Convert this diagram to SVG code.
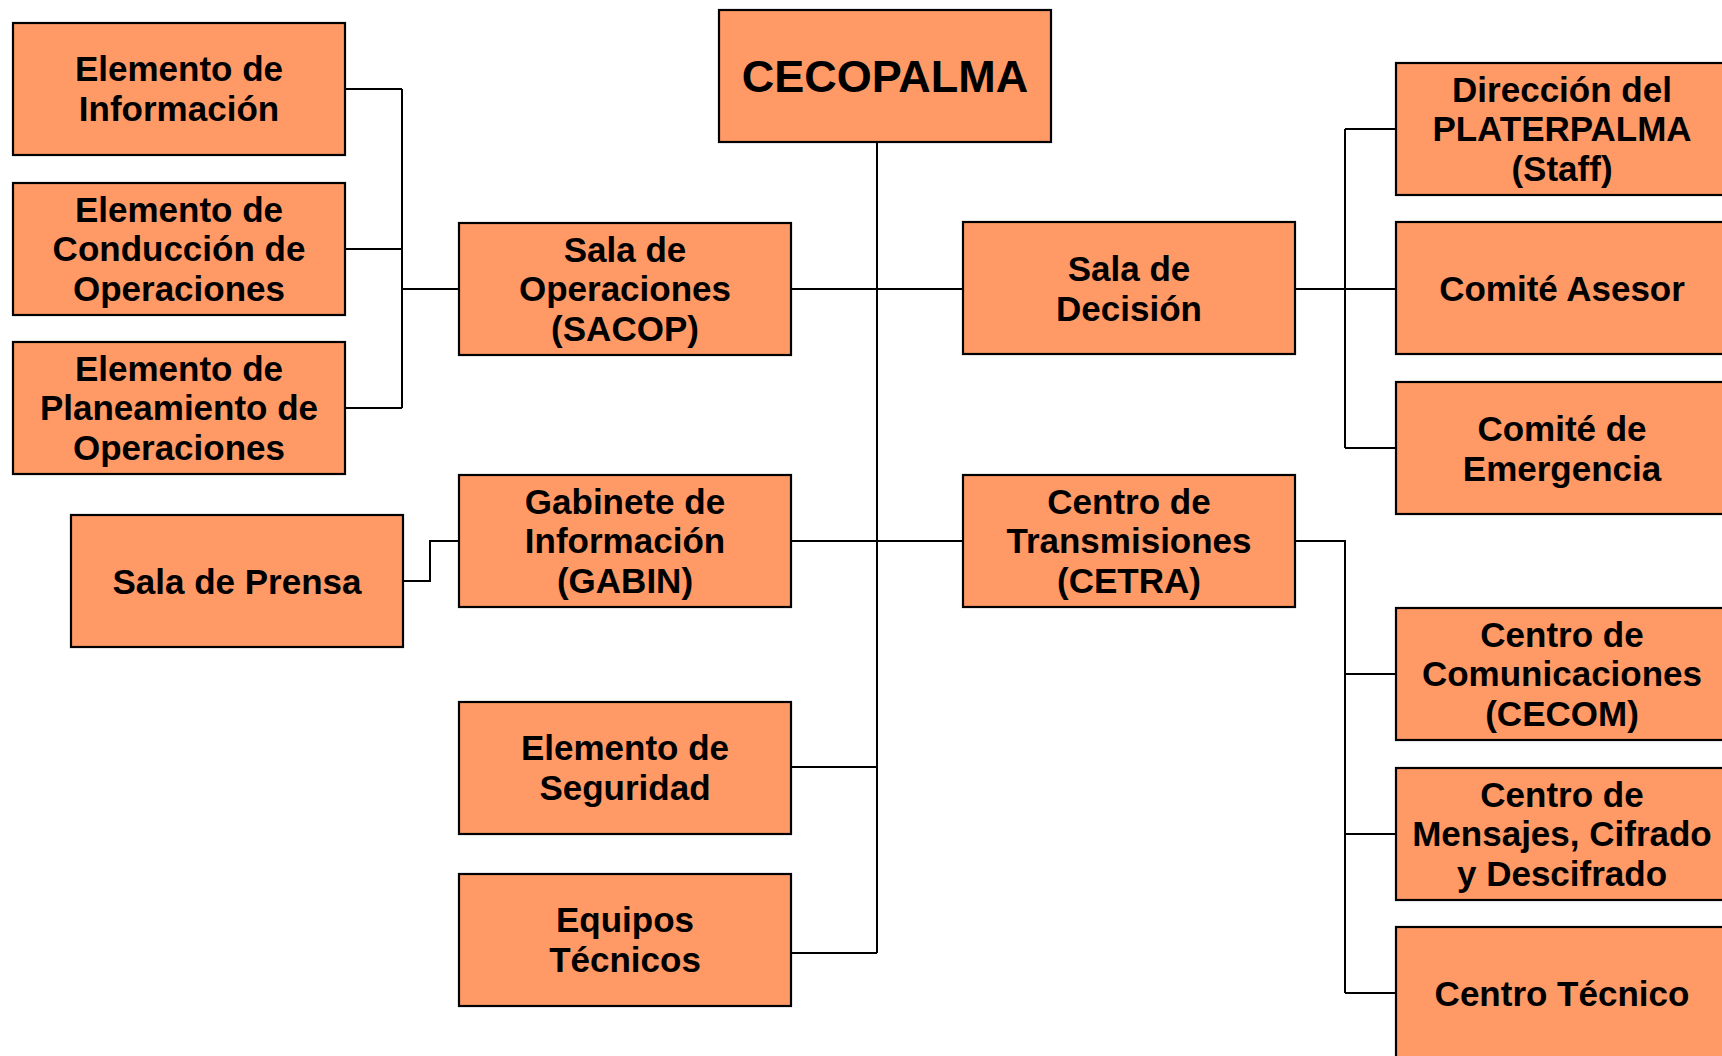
<svg xmlns="http://www.w3.org/2000/svg" width="1722" height="1056" viewBox="0 0 1722 1056">
<style>
.box{fill:#FF9966;stroke:#000;stroke-width:2.2}
.t{font-family:"Liberation Sans",Arial,sans-serif;font-weight:bold;font-size:35px;fill:#000;text-anchor:middle}
.big{font-size:45px}
.c{fill:none;stroke:#000;stroke-width:2}
</style>
<rect width="1722" height="1056" fill="#fff"/>
<g id="connectors">
<path class="c" d="M345 89H402M345 249H402M345 408H402M402 89V408M402 289H459"/>
<path class="c" d="M403 581H430V541H459"/>
<path class="c" d="M877 142V953M791 289H963M791 541H963M791 767H877M791 953H877"/>
<path class="c" d="M1295 289H1396M1345 129V448M1345 129H1396M1345 448H1396"/>
<path class="c" d="M1295 541H1345V993M1345 674H1396M1345 834H1396M1345 993H1396"/>
</g>
<g id="cecopalma"><rect class="box" x="719" y="10" width="332" height="132"/><text class="t big" x="885" y="92">CECOPALMA</text></g>
<g id="elem-info"><rect class="box" x="13" y="23" width="332" height="132"/><text class="t" x="179" y="81">Elemento de</text><text class="t" x="179" y="121">Información</text></g>
<g id="elem-conduccion"><rect class="box" x="13" y="183" width="332" height="132"/><text class="t" x="179" y="222">Elemento de</text><text class="t" x="179" y="261">Conducción de</text><text class="t" x="179" y="301">Operaciones</text></g>
<g id="elem-planeamiento"><rect class="box" x="13" y="342" width="332" height="132"/><text class="t" x="179" y="381">Elemento de</text><text class="t" x="179" y="420">Planeamiento de</text><text class="t" x="179" y="460">Operaciones</text></g>
<g id="sala-prensa"><rect class="box" x="71" y="515" width="332" height="132"/><text class="t" x="237" y="594">Sala de Prensa</text></g>
<g id="sacop"><rect class="box" x="459" y="223" width="332" height="132"/><text class="t" x="625" y="262">Sala de</text><text class="t" x="625" y="301">Operaciones</text><text class="t" x="625" y="341">(SACOP)</text></g>
<g id="gabin"><rect class="box" x="459" y="475" width="332" height="132"/><text class="t" x="625" y="514">Gabinete de</text><text class="t" x="625" y="553">Información</text><text class="t" x="625" y="593">(GABIN)</text></g>
<g id="seguridad"><rect class="box" x="459" y="702" width="332" height="132"/><text class="t" x="625" y="760">Elemento de</text><text class="t" x="625" y="800">Seguridad</text></g>
<g id="equipos"><rect class="box" x="459" y="874" width="332" height="132"/><text class="t" x="625" y="932">Equipos</text><text class="t" x="625" y="972">Técnicos</text></g>
<g id="sala-decision"><rect class="box" x="963" y="222" width="332" height="132"/><text class="t" x="1129" y="281">Sala de</text><text class="t" x="1129" y="321">Decisión</text></g>
<g id="cetra"><rect class="box" x="963" y="475" width="332" height="132"/><text class="t" x="1129" y="514">Centro de</text><text class="t" x="1129" y="553">Transmisiones</text><text class="t" x="1129" y="593">(CETRA)</text></g>
<g id="direccion"><rect class="box" x="1396" y="63" width="332" height="132"/><text class="t" x="1562" y="102">Dirección del</text><text class="t" x="1562" y="141">PLATERPALMA</text><text class="t" x="1562" y="181">(Staff)</text></g>
<g id="comite-asesor"><rect class="box" x="1396" y="222" width="332" height="132"/><text class="t" x="1562" y="301">Comité Asesor</text></g>
<g id="comite-emergencia"><rect class="box" x="1396" y="382" width="332" height="132"/><text class="t" x="1562" y="441">Comité de</text><text class="t" x="1562" y="481">Emergencia</text></g>
<g id="cecom"><rect class="box" x="1396" y="608" width="332" height="132"/><text class="t" x="1562" y="647">Centro de</text><text class="t" x="1562" y="686">Comunicaciones</text><text class="t" x="1562" y="726">(CECOM)</text></g>
<g id="mensajes"><rect class="box" x="1396" y="768" width="332" height="132"/><text class="t" x="1562" y="807">Centro de</text><text class="t" x="1562" y="846">Mensajes, Cifrado</text><text class="t" x="1562" y="886">y Descifrado</text></g>
<g id="centro-tecnico"><rect class="box" x="1396" y="927" width="332" height="132"/><text class="t" x="1562" y="1006">Centro Técnico</text></g>
</svg>
